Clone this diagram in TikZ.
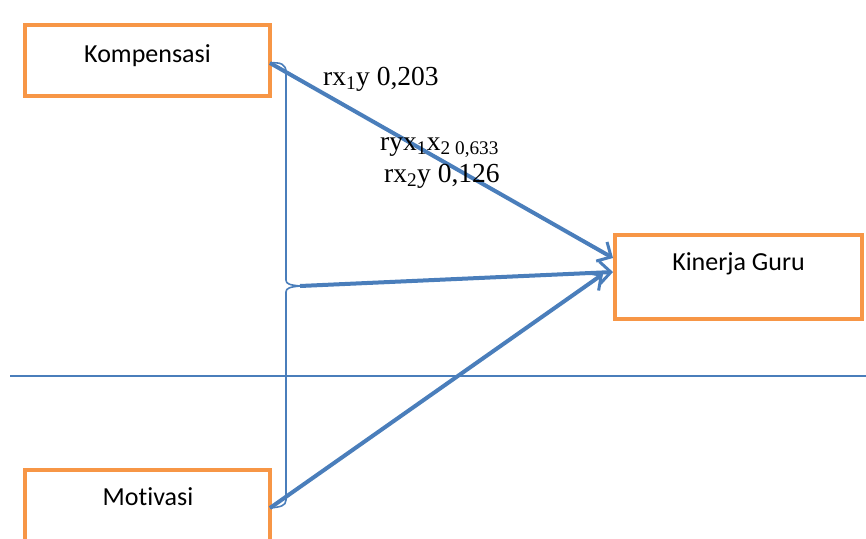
\documentclass[tikz,border=0pt]{standalone}
\usepackage{fontspec}
\setmainfont{Liberation Serif}
\newfontfamily\boxfont[Ligatures=NoCommon]{Carlito}
\usetikzlibrary{arrows.meta}
\definecolor{offorange}{HTML}{F79646}
\definecolor{offblue}{HTML}{4A7EBB}
\begin{document}
\begin{tikzpicture}[x=1pt,y=-1pt,
  boxst/.style={draw=offorange,line width=3.5pt,fill=white,inner sep=0pt},
  boxtext/.style={font=\boxfont\fontsize{26}{30}\selectfont,anchor=base,inner sep=0pt},
  conn/.style={draw=offblue,line width=4pt,-{Straight Barb[length=11pt,width=22pt,line width=3pt]}},
  lbl/.style={font=\fontsize{27.5}{32}\selectfont,anchor=base west,inner sep=0pt}]
\useasboundingbox (0,0) rectangle (866,538);
\begin{scope}
\clip (0,0) rectangle (866,538);
\node[boxst,minimum width=245pt,minimum height=71pt] (komp) at (147.5,60.5) {};
\node[boxst,minimum width=245pt,minimum height=90pt] (moti) at (147.5,515) {};
\node[boxst,minimum width=247pt,minimum height=84pt] (kin) at (738.5,277) {};
\end{scope}
\node[boxtext] (kompt) at (147.5,62) {Kompensasi};
\node[boxtext] (motit) at (148,505) {Motivasi};
\node[boxtext] (kint) at (738.5,270) {Kinerja Guru};
% horizontal line
\coordinate (hl1) at (10,376);
\coordinate (hl2) at (866,376);
\draw[offblue,line width=1.2pt] (hl1) -- (hl2);
% brace
\coordinate (btop) at (270,63);
\coordinate (bmid) at (300,286);
\coordinate (bbot) at (270,508);
\draw[offblue,line width=1.6pt] (btop) .. controls (280,62) and (286,64) .. (286,72)
  -- (286,280) .. controls (286,284) and (290,285) .. (bmid)
  .. controls (290,287) and (286,288) .. (286,292)
  -- (286,500) .. controls (286,506) and (280,507) .. (bbot);
% arrows
\coordinate (t1) at (613,258);
\coordinate (t2) at (613,272);
\coordinate (t3) at (603,274);
\draw[conn] (btop) -- (t1);
\draw[conn] (bmid) -- (t2);
\draw[conn] (bbot) -- (t3);
% labels
\node[lbl] (l1) at (323,85) {rx\textsubscript{1}y 0,203};
\node[lbl] (l2) at (380,150) {ryx\textsubscript{1}x\textsubscript{2 0,633}};
\node[lbl] (l3) at (384,182) {rx\textsubscript{2}y 0,126};
\end{tikzpicture}
\end{document}
